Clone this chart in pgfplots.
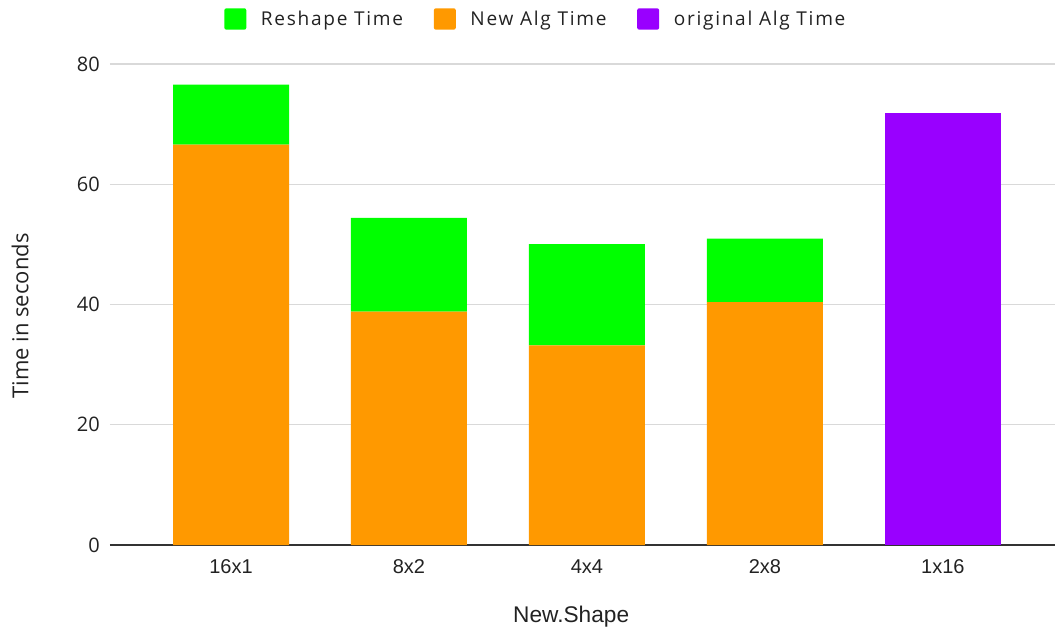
\documentclass[border=0pt]{standalone}
\usepackage{fontspec}
\setmainfont{Open Sans}
\newfontfamily\arialfont{Liberation Sans}
\usepackage{pgfplots}
\pgfplotsset{compat=1.18}

\definecolor{reshape}{HTML}{00FF00}
\definecolor{newalg}{HTML}{FF9900}
\definecolor{origalg}{HTML}{9900FF}
\definecolor{gridgray}{HTML}{D9D9D9}
\definecolor{axisgray}{HTML}{333333}
\definecolor{textgray}{HTML}{222222}

\begin{document}
\begin{tikzpicture}
\begin{axis}[
  scale only axis,
  width=708.75pt, height=360.75pt,
  ybar stacked,
  bar width=87pt,
  xmin=-0.68, xmax=4.63,
  ymin=0, ymax=80,
  xtick={0,1,2,3,4},
  xticklabels={16x1,8x2,4x4,2x8,1x16},
  ytick={0,20,40,60,80},
  ymajorgrids,
  grid style={gridgray, line width=1pt},
  axis x line=bottom,
  axis y line=left,
  x axis line style={axisgray, line width=1.2pt, -},
  y axis line style={draw=none},
  major tick length=0pt,
  /pgf/number format/assume math mode=true,
  yticklabel style={font=\fontsize{15}{18}\selectfont, text=textgray, anchor=east, inner sep=0pt, xshift=-7.5pt},
  xticklabel style={font=\arialfont\fontsize{15}{18}\selectfont, text=textgray, anchor=base, inner sep=0pt, yshift=-21pt},
  xlabel={New.Shape},
  xlabel style={font=\arialfont\fontsize{17}{20}\selectfont, text=textgray, at={(axis description cs:0.488,0)}, anchor=base, inner sep=0pt, yshift=-57.75pt},
  ylabel={Time in seconds},
  ylabel style={font=\fontsize{16.5}{19}\selectfont, text=textgray, at={(axis description cs:-0.0952,0.476)}, anchor=center, inner sep=0pt},
  legend columns=3,
  legend style={
    at={(axis description cs:0.451,1.0936)}, anchor=center,
    draw=none, fill=none,
    font=\addfontfeature{LetterSpace=9}\fontsize{14.3}{17}\selectfont,
    text=textgray,
    /tikz/every even column/.append style={column sep=21pt},
    /tikz/every odd column/.append style={column sep=9pt},
    inner sep=0pt,
  },
  legend image code/.code={
    \fill[#1, draw=none, rounded corners=1.5pt] (0pt,-8pt) rectangle (16.5pt,8pt);
  },
]
% legend entries in display order
\addlegendimage{fill=reshape}
\addlegendentry{Reshape Time}
\addlegendimage{fill=newalg}
\addlegendentry{New Alg Time}
\addlegendimage{fill=origalg}
\addlegendentry{original Alg Time}

% stacked bars: new algorithm at the base, reshape on top
\addplot[fill=newalg, draw=none, forget plot] coordinates {(0,66.6) (1,38.8) (2,33.2) (3,40.4) (4,0)};
\addplot[fill=reshape, draw=none, forget plot] coordinates {(0,9.95) (1,15.6) (2,16.85) (3,10.55) (4,0)};
\addplot[fill=origalg, draw=none, forget plot] coordinates {(0,0) (1,0) (2,0) (3,0) (4,71.9)};
\end{axis}
\pgfresetboundingbox
\path (-82.5pt,-62.25pt) rectangle (708.75pt,408.75pt);
\end{tikzpicture}
\end{document}
